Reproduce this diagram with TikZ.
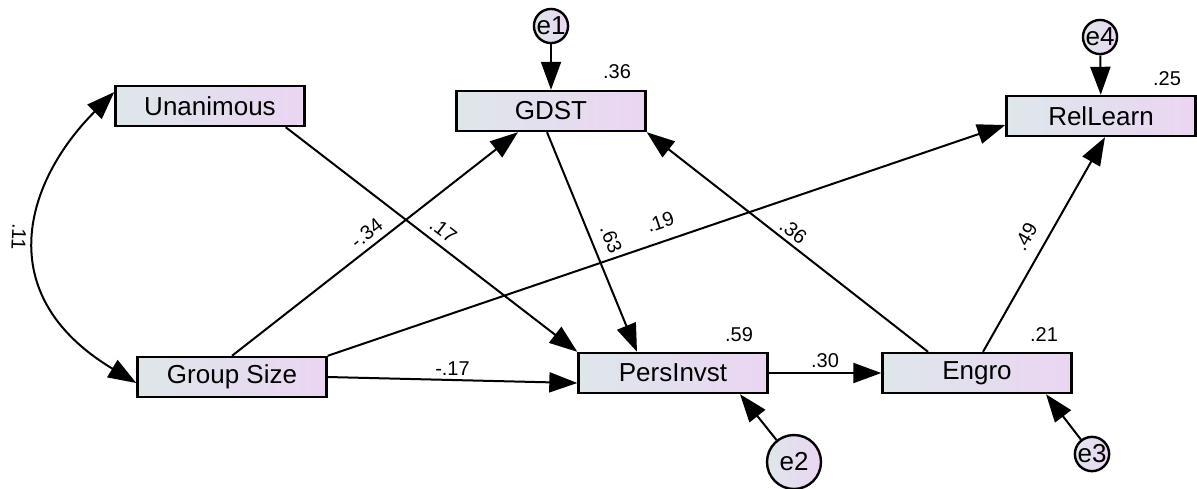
\documentclass[tikz,border=0pt]{standalone}
\usepackage{fontspec}
\setmainfont{Liberation Sans}
\usetikzlibrary{shapes, arrows, arrows.meta}
\definecolor{boxleft}{HTML}{DEE7EA}
\definecolor{boxright}{HTML}{EBD5F2}

\begin{document}
\begin{tikzpicture}[x=0.5pt, y=-0.5pt,
        var/.style={draw, line width=1.2pt, left color=boxleft, right color=boxright, minimum width=94.5pt, minimum height=20pt, inner sep=0pt, font=\fontsize{13}{15}\selectfont},
        err/.style={draw, circle, line width=1.2pt, left color=boxleft, right color=boxright, inner sep=0pt, font=\fontsize{13}{15}\selectfont},
        reg/.style={-{Triangle[length=14pt, width=10pt]}, line width=1pt},
        cov/.style={{Triangle[length=14pt, width=10pt]}-{Triangle[length=14pt, width=10pt]}, line width=1pt},
        coef/.style={font=\fontsize{10}{12}\selectfont, inner sep=2pt}]
            \useasboundingbox (0,0) rectangle (1197,488);

            \node[var] (Unanimous) at (210,106) {Unanimous};
            \node[var] (GDST) at (551,111) {GDST};
            \node[var] (RelLearn) at (1101,116) {RelLearn};
            \node[var] (GroupSize) at (232,377) {Group Size};
            \node[var] (PersInvst) at (673,373) {PersInvst};
            \node[var] (Engro) at (977,373) {Engro};

            \node[err] (e1) at (551,26) {e1};
            \node[err] (e4) at (1100,37) {e4};
            \node[err, minimum size=27pt] (e2) at (794,462) {e2};
            \node[err] (e3) at (1092,454) {e3};

            \node[coef] (r2GDST) at (617,72) {.36};
            \node[coef] (r2RelLearn) at (1167,79) {.25};
            \node[coef] (r2PersInvst) at (739,335) {.59};
            \node[coef] (r2Engro) at (1044,335) {.21};

            \draw[cov] ([yshift=7pt]Unanimous.west) .. controls +(-88,88) and +(-148,-89) .. node[coef, sloped, allow upside down, below=3pt, pos=0.5] {.11} ([yshift=-3pt]GroupSize.west);

            \draw[reg] ([xshift=-10pt]Unanimous.south east) -- node[coef, sloped, above=1.4pt, pos=0.51] {.17} (PersInvst.north west);
            \draw[reg] (GroupSize.north) -- node[coef, sloped, above=0.8pt, pos=0.5] {-.34} ([xshift=-16.5pt]GDST.south);
            \draw[reg] ([xshift=-2pt]GDST.south) -- node[coef, sloped, above=3.4pt, pos=0.52] {.63} ([xshift=-18pt]PersInvst.north);
            \draw[reg] (GroupSize.north east) -- node[coef, sloped, above=3.7pt, pos=0.5] {.19} ([yshift=-4.5pt]RelLearn.west);
            \draw[reg] ([xshift=-24.5pt]Engro.north) -- node[coef, sloped, above=0pt, pos=0.505] {.36} (GDST.south east);
            \draw[reg] ([xshift=3pt]Engro.north) -- node[coef, sloped, above=3.9pt, pos=0.49] {.49} ([xshift=2pt]RelLearn.south);
            \draw[reg] (GroupSize.east) -- node[coef, above] {-.17} ([yshift=-5pt]PersInvst.west);
            \draw[reg] (PersInvst.east) -- node[coef, above] {.30} (Engro.west);

            \draw[reg] (e1) -- (GDST);
            \draw[reg] (e4) -- (RelLearn);
            \draw[reg] (e2) -- ([xshift=33.5pt]PersInvst.south);
            \draw[reg] (e3) -- ([xshift=34.5pt]Engro.south);
    	\end{tikzpicture}
\end{document}
